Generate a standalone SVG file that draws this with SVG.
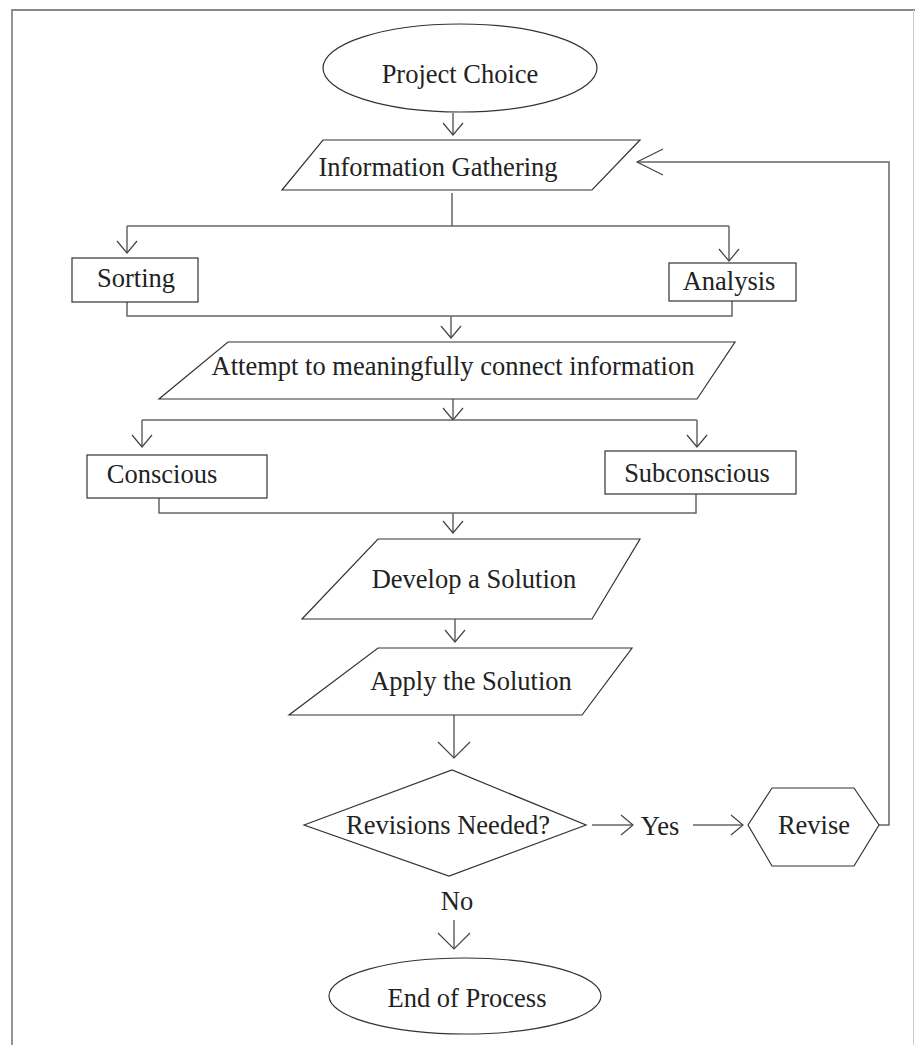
<svg xmlns="http://www.w3.org/2000/svg" width="915" height="1045" viewBox="0 0 915 1045">
<style>
.shape{fill:#fff;stroke:#333;stroke-width:1.2}
.conn{fill:none;stroke:#666;stroke-width:1.5}
.head{fill:none;stroke:#444;stroke-width:1.2}
.lbl{font-family:"Liberation Serif","Times New Roman",serif;font-size:26.5px;fill:#222;text-anchor:middle}
.frame{fill:none;stroke:#888;stroke-width:1.8}
</style>
<defs>
<marker id="sm" markerUnits="userSpaceOnUse" markerWidth="30" markerHeight="30" refX="0" refY="0" viewBox="-15 -15 30 30" orient="auto" overflow="visible"><path class="head" d="M-12,-10 L0,0 L-12,10"/></marker>
<marker id="lg" markerUnits="userSpaceOnUse" markerWidth="40" markerHeight="40" refX="0" refY="0" viewBox="-20 -20 40 40" orient="auto" overflow="visible"><path class="head" d="M-16,-16 L0,0 L-16,16"/></marker>
<marker id="loop" markerUnits="userSpaceOnUse" markerWidth="60" markerHeight="60" refX="0" refY="0" viewBox="-30 -30 60 60" orient="auto" overflow="visible"><path class="head" d="M-26,-13 L0,0 L-26,13"/></marker>
</defs>
<rect width="915" height="1045" fill="#fff"/>
<path class="frame" d="M12,1045 V10 H915"/>
<line x1="913.5" y1="10" x2="913.5" y2="1045" stroke="#ccc" stroke-width="1"/>

<g id="connectors">
<path class="conn" d="M453,113 V135" marker-end="url(#sm)"/>
<path class="conn" d="M452,193 V226"/>
<path class="conn" d="M127,226 H729"/>
<path class="conn" d="M127,226 V253" marker-end="url(#sm)"/>
<path class="conn" d="M729,226 V261" marker-end="url(#sm)"/>
<path class="conn" d="M127,302 V316 H732 V301"/>
<path class="conn" d="M451,316 V338" marker-end="url(#sm)"/>
<path class="conn" d="M453,399 V420" marker-end="url(#sm)"/>
<path class="conn" d="M142,420 H697"/>
<path class="conn" d="M142,420 V447" marker-end="url(#sm)"/>
<path class="conn" d="M697,420 V447" marker-end="url(#sm)"/>
<path class="conn" d="M159,498 V513 H696 V494"/>
<path class="conn" d="M453,513 V533" marker-end="url(#sm)"/>
<path class="conn" d="M455,619 V642" marker-end="url(#sm)"/>
<path class="conn" d="M454,715 V758" marker-end="url(#lg)"/>
<path class="conn" d="M592,825 H633" marker-end="url(#sm)"/>
<path class="conn" d="M693,825 H743" marker-end="url(#sm)"/>
<path class="conn" d="M879,825 H889 V162 H637" marker-end="url(#loop)"/>
<path class="conn" d="M454,920 V949" marker-end="url(#lg)"/>
<text class="lbl" x="660" y="835">Yes</text>
<text class="lbl" x="457" y="910">No</text>
</g>

<g id="project-choice">
<ellipse class="shape" cx="460" cy="68" rx="137" ry="44"/>
<text class="lbl" x="460" y="83">Project Choice</text>
</g>
<g id="information-gathering">
<polygon class="shape" points="323,140 640,140 592,190 282,190"/>
<text class="lbl" x="438" y="176">Information Gathering</text>
</g>
<g id="sorting">
<rect class="shape" x="72" y="258" width="126" height="44"/>
<text class="lbl" x="136" y="287">Sorting</text>
</g>
<g id="analysis">
<rect class="shape" x="669" y="263" width="127" height="38"/>
<text class="lbl" x="729" y="290">Analysis</text>
</g>
<g id="attempt">
<polygon class="shape" points="228,342 735,342 697,399 159,399"/>
<text class="lbl" x="453" y="375">Attempt to meaningfully connect information</text>
</g>
<g id="conscious">
<rect class="shape" x="87" y="455" width="180" height="43"/>
<text class="lbl" x="162" y="483">Conscious</text>
</g>
<g id="subconscious">
<rect class="shape" x="605" y="451" width="191" height="43"/>
<text class="lbl" x="697" y="482">Subconscious</text>
</g>
<g id="develop">
<polygon class="shape" points="378,539 640,539 592,619 302,619"/>
<text class="lbl" x="474" y="588">Develop a Solution</text>
</g>
<g id="apply">
<polygon class="shape" points="378,648 632,648 582,715 289,715"/>
<text class="lbl" x="471" y="690">Apply the Solution</text>
</g>
<g id="revisions-needed">
<polygon class="shape" points="304,825 452,770 586,825 449,876"/>
<text class="lbl" x="448" y="834">Revisions Needed?</text>
</g>
<g id="revise">
<polygon class="shape" points="748,825 772,788 854,788 879,825 854,866 772,866"/>
<text class="lbl" x="814" y="834">Revise</text>
</g>
<g id="end-of-process">
<ellipse class="shape" cx="465" cy="996" rx="136" ry="38"/>
<text class="lbl" x="467" y="1007">End of Process</text>
</g>
</svg>
